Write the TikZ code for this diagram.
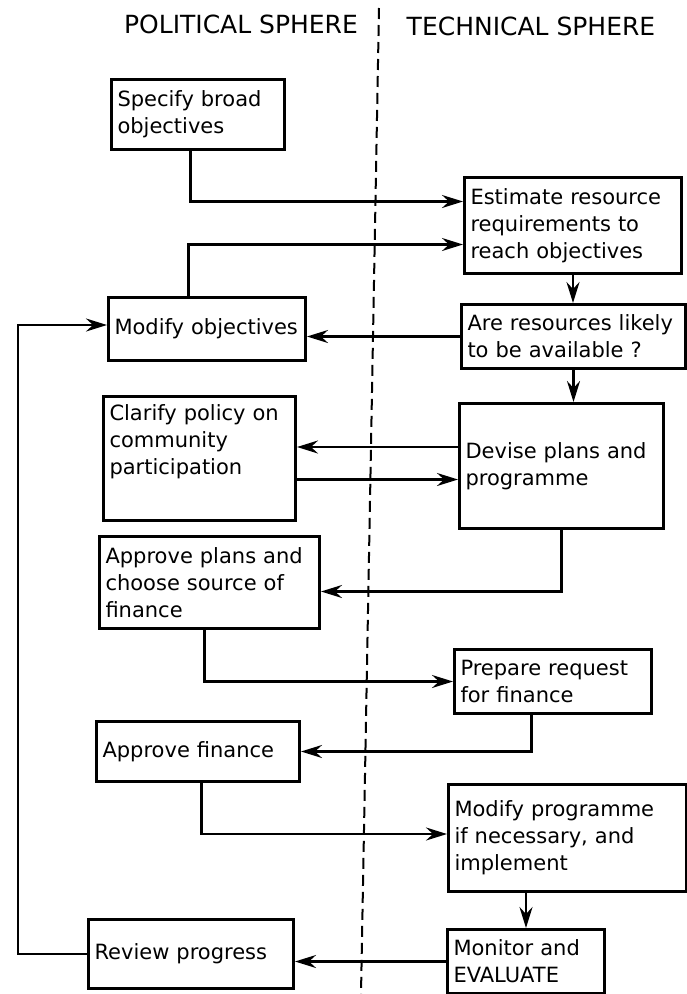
\documentclass[tikz,border=0pt]{standalone}
\usepackage{fontspec}
\setmainfont{DejaVu Sans}
\usetikzlibrary{arrows.meta}

\begin{document}
\begin{tikzpicture}[
    x=1pt, y=-1pt,
    box/.style={rectangle, draw=black, line width=3pt, anchor=north west,
                inner xsep=6pt, inner ysep=6pt, align=left,
                font=\fontsize{21}{27}\selectfont},
    title/.style={font=\fontsize{25}{28}\selectfont},
    arr/.style={-{Stealth[length=21pt, width=13pt, inset=7pt]}, line width=2.4pt},
    divider/.style={dash pattern=on 11pt off 6pt, line width=2pt},
  ]
  \useasboundingbox (0,0) rectangle (687,994);

  % sphere headings and divider
  \node[title] (poltitle)  at (241,24) {POLITICAL SPHERE};
  \node[title] (techtitle) at (531,26) {TECHNICAL SPHERE};
  \coordinate (divtop) at (379,8);
  \coordinate (divbot) at (361,994);
  \draw[divider] (divtop) -- (divbot);

  % political sphere
  \node[box, text width=161pt, minimum height=70pt]  (spec)     at (110,78)  {Specify broad\\objectives};
  \node[box, text width=185pt, minimum height=63pt]  (modobj)   at (107,296) {Modify objectives};
  \node[box, text width=180pt, minimum height=124pt, text depth=92pt] (clarify) at (102,395) {Clarify policy on\\community\\participation};
  \node[box, text width=208pt, minimum height=92pt]  (apprplan) at (98,535)  {Approve plans and\\choose source of\\finance};
  \node[box, text width=191pt, minimum height=60pt]  (apprfin)  at (95,720)  {Approve finance};
  \node[box, text width=193pt, minimum height=69pt]  (review)   at (87,918)  {Review progress};

  % technical sphere
  \node[box, text width=205pt, minimum height=96pt]  (estim)    at (463,176) {Estimate resource\\requirements to\\reach objectives};
  \node[box, text width=212pt, minimum height=64pt]  (avail)    at (460,303) {Are resources likely\\to be available ?};
  \node[box, text width=192pt, minimum height=125pt] (devise)   at (458,402) {Devise plans and\\programme};
  \node[box, text width=185pt, minimum height=64pt]  (prepreq)  at (453,648) {Prepare request\\for finance};
  \node[box, text width=226pt, minimum height=107pt] (modprog)  at (447,783) {Modify programme\\if necessary, and\\implement};
  \node[box, text width=145pt, minimum height=64pt]  (monitor)  at (446,928) {Monitor and\\EVALUATE};

  \coordinate (loop) at (18,0);

  \draw[arr] ([xshift=-7.5pt]spec.south) |- ([yshift=24pt]estim.west);
  \draw[arr] ([xshift=-18.5pt]modobj.north) |- ([yshift=-19pt]estim.west);
  \draw[arr] (estim.south) -- (estim.south |- avail.north);
  \draw[arr] (avail.west) -- (avail.west -| modobj.east);
  \draw[arr] (avail.south) -- (avail.south |- devise.north);
  \draw[arr] ([yshift=19pt]devise.west) -- ([yshift=19pt]devise.west -| clarify.east);
  \draw[arr] ([yshift=-21pt]clarify.east) -- ([yshift=-21pt]clarify.east -| devise.west);
  \draw[arr] (devise.south) |- ([yshift=-9pt]apprplan.east);
  \draw[arr] ([xshift=-5pt]apprplan.south) |- (prepreq.west);
  \draw[arr] ([xshift=-21.5pt]prepreq.south) |- (apprfin.east);
  \draw[arr] ([xshift=3.5pt]apprfin.south) |- ([yshift=4pt]modprog.west);
  \draw[arr] (modprog.south -| monitor.north) -- (monitor.north);
  \draw[arr] (monitor.west) -- (monitor.west -| review.east);
  \draw[arr] (review.west) -| ([yshift=4pt]modobj.west -| loop) -- ([yshift=4pt]modobj.west);
\end{tikzpicture}
\end{document}
